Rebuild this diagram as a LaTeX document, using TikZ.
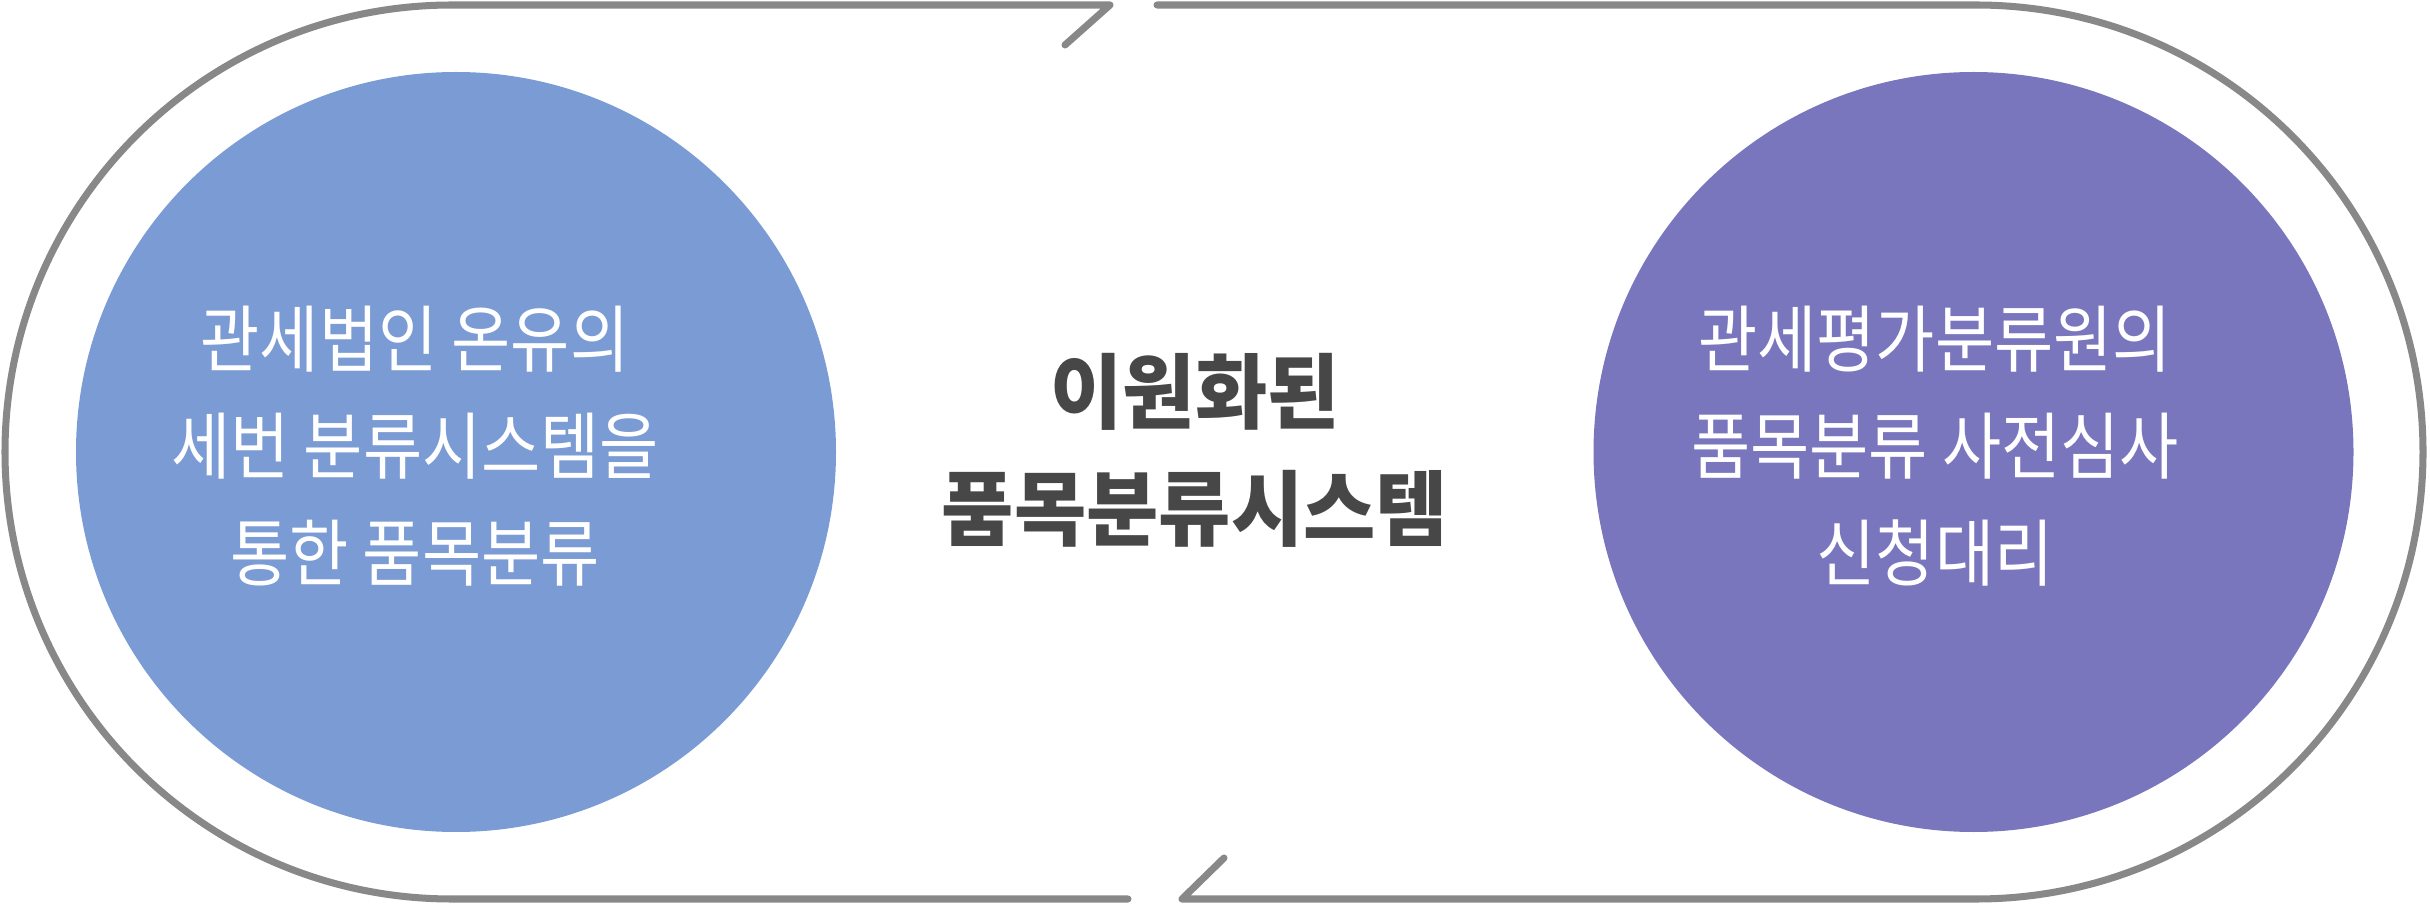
\documentclass[tikz,border=0pt]{standalone}
\usepackage{fontspec}
\usetikzlibrary{positioning,calc}
\newfontfamily\krfont{Noto Sans CJK KR}
\definecolor{bluecirc}{HTML}{7B9BD4}
\definecolor{violetcirc}{HTML}{7A76BE}
\definecolor{cyclegray}{HTML}{888888}
\definecolor{textgray}{HTML}{474747}
\newcommand\squash[2]{\scalebox{#1}[1]{\begin{tabular}{@{}c@{}}#2\end{tabular}}}
\tikzstyle{bubble}=[circle,minimum size=7.6cm,inner sep=0pt]
\tikzstyle{bubbletext}=[text=white,inner sep=0pt,font=\krfont\fontsize{20.8}{30.4}\selectfont]
\tikzstyle{midtext}=[text=textgray,inner sep=0pt,font=\krfont\bfseries\fontsize{23.3}{33.3}\selectfont]
\tikzstyle{cycleline}=[draw=cyclegray,line width=2pt,line cap=round,line join=round]

\begin{document}
\begin{tikzpicture}
  \useasboundingbox (0,0) rectangle (24.3,-9.04);
  % two circles
  \node[bubble,fill=bluecirc] at (4.56,-4.52) (lhs) {};
  \node[bubble,fill=violetcirc] at (19.735,-4.52) (rhs) {};
  \node[bubbletext] at (4.15,-4.52) (ltext) {\squash{0.88}{관세법인 온유의\\세번 분류시스템을\\통한 품목분류}};
  \node[bubbletext] at (19.35,-4.52) (rtext) {\squash{0.88}{관세평가분류원의\\품목분류 사전심사\\신청대리}};
  \node[midtext] at (11.95,-4.58) (mtext) {\squash{0.96}{이원화된\\품목분류시스템}};
  % outer cycle
  \coordinate (topl) at (11.10,-0.05);
  \coordinate (topltip) at (10.65,-0.45);
  \coordinate (topr) at (11.57,-0.05);
  \coordinate (botl) at (11.28,-8.99);
  \coordinate (botr) at (11.82,-8.99);
  \coordinate (botrtip) at (12.24,-8.58);
  \draw[cycleline] (botl) -- (4.52,-8.99) arc[start angle=270,end angle=90,radius=4.47] -- (topl) -- (topltip);
  \draw[cycleline] (topr) -- (19.76,-0.05) arc[start angle=90,end angle=-90,radius=4.47] -- (botr) -- (botrtip);
\end{tikzpicture}
\end{document}
